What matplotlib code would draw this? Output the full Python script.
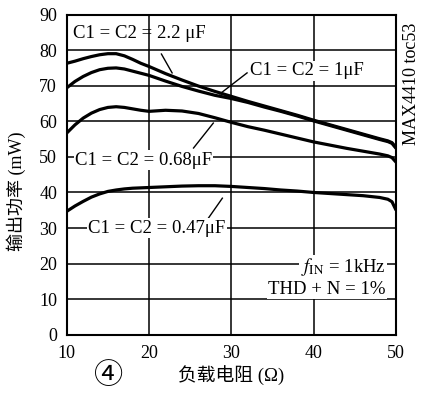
import matplotlib
matplotlib.use("Agg")
import matplotlib.pyplot as plt

plt.rcParams['font.family'] = ['Liberation Serif', 'Noto Sans CJK SC']
plt.rcParams['mathtext.fontset'] = 'stix'

# load resistance (ohm)
r = [10, 11, 12, 13, 14, 15, 16, 17, 18, 19, 20, 22, 24, 26, 28, 30,
     32, 34, 36, 38, 40, 42, 44, 46, 48, 49, 49.5, 50]
# output power (mW)
p_22 = [76.3, 76.9, 77.6, 78.2, 78.7, 79.0, 79.0, 78.4, 77.4, 76.3, 75.4, 73.4,
        71.6, 69.9, 68.4, 67.0, 65.6, 64.3, 63.0, 61.7, 60.3, 59.0, 57.7, 56.4,
        55.1, 54.5, 54.0, 52.6]
p_1 = [69.4, 71.2, 72.6, 73.7, 74.5, 74.9, 75.0, 74.7, 74.1, 73.5, 72.9, 71.3,
       69.8, 68.5, 67.3, 66.4, 65.3, 64.0, 62.8, 61.5, 60.1, 58.8, 57.5, 56.2,
       54.9, 54.3, 53.8, 52.4]
p_068 = [56.7, 59.0, 60.9, 62.3, 63.3, 63.9, 64.1, 63.9, 63.5, 63.1, 62.8, 63.1,
         62.9, 62.2, 61.0, 59.7, 58.5, 57.5, 56.4, 55.3, 54.2, 53.3, 52.4, 51.6,
         50.8, 50.3, 49.8, 48.5]
p_047 = [34.7, 36.2, 37.5, 38.7, 39.6, 40.3, 40.7, 41.0, 41.2, 41.3, 41.4, 41.6,
         41.8, 41.9, 41.9, 41.7, 41.4, 41.1, 40.7, 40.4, 40.0, 39.7, 39.4, 39.1,
         38.6, 38.1, 37.4, 35.0]

fig = plt.figure(figsize=(4.25, 3.93), dpi=100)
ax = fig.add_axes([0.157, 0.148, 0.775, 0.815])

# grid
for yy in range(10, 90, 10):
    ax.axhline(yy, color='black', lw=1.1, zorder=1)
for xx in [20, 30, 40]:
    ax.axvline(xx, color='black', lw=1.1, zorder=1)

for p in [p_22, p_1, p_068, p_047]:
    ax.plot(r, p, color='black', lw=2.3, zorder=3, solid_capstyle='butt')

ax.set_xlim(10, 50)
ax.set_ylim(0, 90)
ax.set_xticks([10, 20, 30, 40, 50])
ax.set_yticks(range(0, 100, 10))
ax.tick_params(length=0, labelsize=13, pad=7)
for s in ax.spines.values():
    s.set_linewidth(1.5)

box = dict(facecolor='white', edgecolor='none', pad=1)
fs = 13.5
ax.text(10.8, 84.8, 'C1 = C2 = 2.2 μF', fontsize=fs, ha='left', va='center', zorder=5)
ax.plot([21.5, 22.8], [78.9, 73.6], color='black', lw=1, zorder=4)

ax.text(32.3, 74.2, 'C1 = C2 = 1μF', fontsize=fs, ha='left', va='center', bbox=box, zorder=5)
ax.plot([31.9, 28.6], [73.6, 67.7], color='black', lw=1, zorder=4)

ax.text(11.0, 49.1, 'C1 = C2 = 0.68μF', fontsize=fs, ha='left', va='center', bbox=box, zorder=5)
ax.plot([25.4, 27.8], [52.5, 59.5], color='black', lw=1, zorder=4)

ax.text(12.6, 30.0, 'C1 = C2 = 0.47μF', fontsize=fs, ha='left', va='center', bbox=box, zorder=5)
ax.plot([26.6, 28.9], [30.8, 38.4], color='black', lw=1, zorder=4)

ax.text(48.7, 19.0, '$f_{\\rm IN}$ = 1kHz', fontsize=fs, ha='right', va='center', bbox=box, zorder=5)
ax.text(48.7, 12.8, 'THD + N = 1%', fontsize=fs, ha='right', va='center', bbox=box, zorder=5)

fig.text(0.969, 0.786, 'MAX4410 toc53', rotation=90, fontsize=13, ha='center', va='center')
fig.text(0.038, 0.514, '输出功率 (mW)', rotation=90, fontsize=13, ha='center', va='center')
fig.text(0.543, 0.045, '负载电阻 (Ω)', fontsize=13.5, ha='center', va='center')
fig.text(0.256, 0.043, '④', fontsize=21, ha='center', va='center', family='Noto Sans CJK SC')

fig.savefig('out.png', dpi=100)
